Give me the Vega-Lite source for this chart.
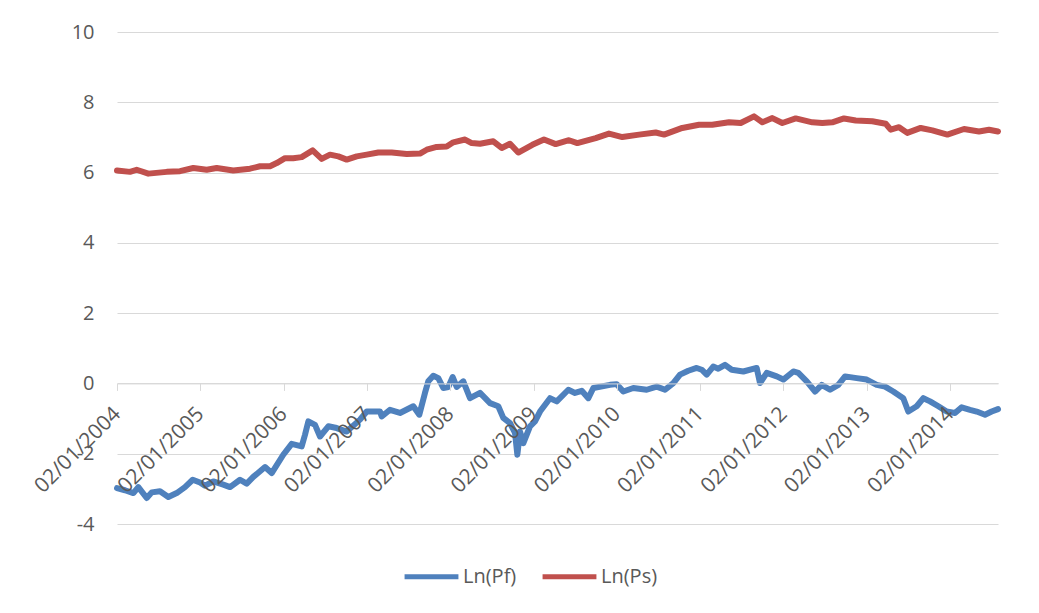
{
  "$schema": "https://vega.github.io/schema/vega-lite/v6.json",
  "width": 881,
  "height": 492,
  "autosize": {"type": "none"},
  "padding": {"left": 117, "top": 32, "right": 41, "bottom": 89},
  "background": "white",
  "config": {"font": "Open Sans", "view": {"stroke": null}},
  "data": {
    "values": [
      {"series": "Ln(Pf)", "year": 2004.000, "value": -2.98},
      {"series": "Ln(Pf)", "year": 2004.096, "value": -3.04},
      {"series": "Ln(Pf)", "year": 2004.196, "value": -3.12},
      {"series": "Ln(Pf)", "year": 2004.256, "value": -2.95},
      {"series": "Ln(Pf)", "year": 2004.357, "value": -3.26},
      {"series": "Ln(Pf)", "year": 2004.417, "value": -3.10},
      {"series": "Ln(Pf)", "year": 2004.516, "value": -3.07},
      {"series": "Ln(Pf)", "year": 2004.616, "value": -3.23},
      {"series": "Ln(Pf)", "year": 2004.717, "value": -3.12},
      {"series": "Ln(Pf)", "year": 2004.816, "value": -2.95},
      {"series": "Ln(Pf)", "year": 2004.909, "value": -2.74},
      {"series": "Ln(Pf)", "year": 2004.996, "value": -2.82},
      {"series": "Ln(Pf)", "year": 2005.056, "value": -2.91},
      {"series": "Ln(Pf)", "year": 2005.156, "value": -2.79},
      {"series": "Ln(Pf)", "year": 2005.276, "value": -2.88},
      {"series": "Ln(Pf)", "year": 2005.357, "value": -2.95},
      {"series": "Ln(Pf)", "year": 2005.477, "value": -2.74},
      {"series": "Ln(Pf)", "year": 2005.557, "value": -2.85},
      {"series": "Ln(Pf)", "year": 2005.636, "value": -2.66},
      {"series": "Ln(Pf)", "year": 2005.777, "value": -2.38},
      {"series": "Ln(Pf)", "year": 2005.857, "value": -2.55},
      {"series": "Ln(Pf)", "year": 2005.996, "value": -2.03},
      {"series": "Ln(Pf)", "year": 2006.097, "value": -1.72},
      {"series": "Ln(Pf)", "year": 2006.217, "value": -1.79},
      {"series": "Ln(Pf)", "year": 2006.257, "value": -1.46},
      {"series": "Ln(Pf)", "year": 2006.297, "value": -1.08},
      {"series": "Ln(Pf)", "year": 2006.377, "value": -1.18},
      {"series": "Ln(Pf)", "year": 2006.437, "value": -1.51},
      {"series": "Ln(Pf)", "year": 2006.537, "value": -1.22},
      {"series": "Ln(Pf)", "year": 2006.637, "value": -1.27},
      {"series": "Ln(Pf)", "year": 2006.758, "value": -1.37},
      {"series": "Ln(Pf)", "year": 2006.917, "value": -1.03},
      {"series": "Ln(Pf)", "year": 2006.998, "value": -0.80},
      {"series": "Ln(Pf)", "year": 2007.157, "value": -0.80},
      {"series": "Ln(Pf)", "year": 2007.178, "value": -0.94},
      {"series": "Ln(Pf)", "year": 2007.277, "value": -0.75},
      {"series": "Ln(Pf)", "year": 2007.397, "value": -0.84},
      {"series": "Ln(Pf)", "year": 2007.557, "value": -0.65},
      {"series": "Ln(Pf)", "year": 2007.629, "value": -0.89},
      {"series": "Ln(Pf)", "year": 2007.697, "value": -0.27},
      {"series": "Ln(Pf)", "year": 2007.737, "value": 0.06},
      {"series": "Ln(Pf)", "year": 2007.797, "value": 0.22},
      {"series": "Ln(Pf)", "year": 2007.857, "value": 0.15},
      {"series": "Ln(Pf)", "year": 2007.917, "value": -0.13},
      {"series": "Ln(Pf)", "year": 2007.977, "value": -0.10},
      {"series": "Ln(Pf)", "year": 2008.030, "value": 0.18},
      {"series": "Ln(Pf)", "year": 2008.078, "value": -0.10},
      {"series": "Ln(Pf)", "year": 2008.157, "value": 0.06},
      {"series": "Ln(Pf)", "year": 2008.238, "value": -0.42},
      {"series": "Ln(Pf)", "year": 2008.358, "value": -0.27},
      {"series": "Ln(Pf)", "year": 2008.478, "value": -0.56},
      {"series": "Ln(Pf)", "year": 2008.577, "value": -0.65},
      {"series": "Ln(Pf)", "year": 2008.637, "value": -0.98},
      {"series": "Ln(Pf)", "year": 2008.718, "value": -1.13},
      {"series": "Ln(Pf)", "year": 2008.778, "value": -1.41},
      {"series": "Ln(Pf)", "year": 2008.806, "value": -2.03},
      {"series": "Ln(Pf)", "year": 2008.838, "value": -1.37},
      {"series": "Ln(Pf)", "year": 2008.878, "value": -1.70},
      {"series": "Ln(Pf)", "year": 2008.958, "value": -1.22},
      {"series": "Ln(Pf)", "year": 2009.018, "value": -1.08},
      {"series": "Ln(Pf)", "year": 2009.078, "value": -0.80},
      {"series": "Ln(Pf)", "year": 2009.198, "value": -0.42},
      {"series": "Ln(Pf)", "year": 2009.279, "value": -0.51},
      {"series": "Ln(Pf)", "year": 2009.418, "value": -0.18},
      {"series": "Ln(Pf)", "year": 2009.498, "value": -0.27},
      {"series": "Ln(Pf)", "year": 2009.579, "value": -0.21},
      {"series": "Ln(Pf)", "year": 2009.658, "value": -0.42},
      {"series": "Ln(Pf)", "year": 2009.718, "value": -0.13},
      {"series": "Ln(Pf)", "year": 2009.918, "value": -0.04},
      {"series": "Ln(Pf)", "year": 2009.999, "value": -0.02},
      {"series": "Ln(Pf)", "year": 2010.078, "value": -0.23},
      {"series": "Ln(Pf)", "year": 2010.198, "value": -0.13},
      {"series": "Ln(Pf)", "year": 2010.359, "value": -0.18},
      {"series": "Ln(Pf)", "year": 2010.479, "value": -0.09},
      {"series": "Ln(Pf)", "year": 2010.579, "value": -0.18},
      {"series": "Ln(Pf)", "year": 2010.678, "value": 0.01},
      {"series": "Ln(Pf)", "year": 2010.759, "value": 0.25},
      {"series": "Ln(Pf)", "year": 2010.858, "value": 0.36},
      {"series": "Ln(Pf)", "year": 2010.959, "value": 0.44},
      {"series": "Ln(Pf)", "year": 2011.019, "value": 0.39},
      {"series": "Ln(Pf)", "year": 2011.079, "value": 0.25},
      {"series": "Ln(Pf)", "year": 2011.158, "value": 0.48},
      {"series": "Ln(Pf)", "year": 2011.218, "value": 0.42},
      {"series": "Ln(Pf)", "year": 2011.299, "value": 0.53},
      {"series": "Ln(Pf)", "year": 2011.379, "value": 0.39},
      {"series": "Ln(Pf)", "year": 2011.519, "value": 0.34},
      {"series": "Ln(Pf)", "year": 2011.679, "value": 0.44},
      {"series": "Ln(Pf)", "year": 2011.719, "value": 0.01},
      {"series": "Ln(Pf)", "year": 2011.800, "value": 0.30},
      {"series": "Ln(Pf)", "year": 2011.920, "value": 0.20},
      {"series": "Ln(Pf)", "year": 2011.999, "value": 0.11},
      {"series": "Ln(Pf)", "year": 2012.119, "value": 0.34},
      {"series": "Ln(Pf)", "year": 2012.179, "value": 0.30},
      {"series": "Ln(Pf)", "year": 2012.280, "value": 0.06},
      {"series": "Ln(Pf)", "year": 2012.380, "value": -0.23},
      {"series": "Ln(Pf)", "year": 2012.460, "value": -0.04},
      {"series": "Ln(Pf)", "year": 2012.560, "value": -0.18},
      {"series": "Ln(Pf)", "year": 2012.659, "value": -0.04},
      {"series": "Ln(Pf)", "year": 2012.740, "value": 0.20},
      {"series": "Ln(Pf)", "year": 2012.880, "value": 0.15},
      {"series": "Ln(Pf)", "year": 2013.000, "value": 0.11},
      {"series": "Ln(Pf)", "year": 2013.120, "value": -0.04},
      {"series": "Ln(Pf)", "year": 2013.220, "value": -0.09},
      {"series": "Ln(Pf)", "year": 2013.319, "value": -0.23},
      {"series": "Ln(Pf)", "year": 2013.439, "value": -0.42},
      {"series": "Ln(Pf)", "year": 2013.499, "value": -0.80},
      {"series": "Ln(Pf)", "year": 2013.600, "value": -0.65},
      {"series": "Ln(Pf)", "year": 2013.680, "value": -0.42},
      {"series": "Ln(Pf)", "year": 2013.760, "value": -0.51},
      {"series": "Ln(Pf)", "year": 2013.860, "value": -0.65},
      {"series": "Ln(Pf)", "year": 2013.960, "value": -0.80},
      {"series": "Ln(Pf)", "year": 2014.060, "value": -0.84},
      {"series": "Ln(Pf)", "year": 2014.140, "value": -0.68},
      {"series": "Ln(Pf)", "year": 2014.240, "value": -0.75},
      {"series": "Ln(Pf)", "year": 2014.320, "value": -0.80},
      {"series": "Ln(Pf)", "year": 2014.420, "value": -0.89},
      {"series": "Ln(Pf)", "year": 2014.500, "value": -0.80},
      {"series": "Ln(Pf)", "year": 2014.576, "value": -0.73},
      {"series": "Ln(Ps)", "year": 2004.000, "value": 6.06},
      {"series": "Ln(Ps)", "year": 2004.156, "value": 6.02},
      {"series": "Ln(Ps)", "year": 2004.236, "value": 6.08},
      {"series": "Ln(Ps)", "year": 2004.376, "value": 5.97},
      {"series": "Ln(Ps)", "year": 2004.597, "value": 6.02},
      {"series": "Ln(Ps)", "year": 2004.756, "value": 6.04},
      {"series": "Ln(Ps)", "year": 2004.916, "value": 6.13},
      {"series": "Ln(Ps)", "year": 2005.077, "value": 6.08},
      {"series": "Ln(Ps)", "year": 2005.197, "value": 6.13},
      {"series": "Ln(Ps)", "year": 2005.396, "value": 6.06},
      {"series": "Ln(Ps)", "year": 2005.597, "value": 6.11},
      {"series": "Ln(Ps)", "year": 2005.717, "value": 6.18},
      {"series": "Ln(Ps)", "year": 2005.837, "value": 6.18},
      {"series": "Ln(Ps)", "year": 2005.917, "value": 6.27},
      {"series": "Ln(Ps)", "year": 2006.017, "value": 6.41},
      {"series": "Ln(Ps)", "year": 2006.116, "value": 6.41},
      {"series": "Ln(Ps)", "year": 2006.217, "value": 6.44},
      {"series": "Ln(Ps)", "year": 2006.349, "value": 6.63},
      {"series": "Ln(Ps)", "year": 2006.457, "value": 6.39},
      {"series": "Ln(Ps)", "year": 2006.557, "value": 6.51},
      {"series": "Ln(Ps)", "year": 2006.657, "value": 6.46},
      {"series": "Ln(Ps)", "year": 2006.758, "value": 6.37},
      {"series": "Ln(Ps)", "year": 2006.878, "value": 6.46},
      {"series": "Ln(Ps)", "year": 2006.998, "value": 6.51},
      {"series": "Ln(Ps)", "year": 2007.137, "value": 6.57},
      {"series": "Ln(Ps)", "year": 2007.298, "value": 6.57},
      {"series": "Ln(Ps)", "year": 2007.478, "value": 6.53},
      {"series": "Ln(Ps)", "year": 2007.637, "value": 6.54},
      {"series": "Ln(Ps)", "year": 2007.718, "value": 6.65},
      {"series": "Ln(Ps)", "year": 2007.838, "value": 6.73},
      {"series": "Ln(Ps)", "year": 2007.958, "value": 6.74},
      {"series": "Ln(Ps)", "year": 2008.037, "value": 6.86},
      {"series": "Ln(Ps)", "year": 2008.178, "value": 6.94},
      {"series": "Ln(Ps)", "year": 2008.258, "value": 6.84},
      {"series": "Ln(Ps)", "year": 2008.358, "value": 6.82},
      {"series": "Ln(Ps)", "year": 2008.517, "value": 6.89},
      {"series": "Ln(Ps)", "year": 2008.618, "value": 6.70},
      {"series": "Ln(Ps)", "year": 2008.718, "value": 6.82},
      {"series": "Ln(Ps)", "year": 2008.817, "value": 6.57},
      {"series": "Ln(Ps)", "year": 2008.986, "value": 6.79},
      {"series": "Ln(Ps)", "year": 2009.126, "value": 6.94},
      {"series": "Ln(Ps)", "year": 2009.266, "value": 6.81},
      {"series": "Ln(Ps)", "year": 2009.426, "value": 6.92},
      {"series": "Ln(Ps)", "year": 2009.526, "value": 6.84},
      {"series": "Ln(Ps)", "year": 2009.747, "value": 6.98},
      {"series": "Ln(Ps)", "year": 2009.906, "value": 7.11},
      {"series": "Ln(Ps)", "year": 2010.066, "value": 7.01},
      {"series": "Ln(Ps)", "year": 2010.267, "value": 7.08},
      {"series": "Ln(Ps)", "year": 2010.467, "value": 7.14},
      {"series": "Ln(Ps)", "year": 2010.567, "value": 7.08},
      {"series": "Ln(Ps)", "year": 2010.786, "value": 7.27},
      {"series": "Ln(Ps)", "year": 2010.987, "value": 7.36},
      {"series": "Ln(Ps)", "year": 2011.146, "value": 7.36},
      {"series": "Ln(Ps)", "year": 2011.347, "value": 7.43},
      {"series": "Ln(Ps)", "year": 2011.487, "value": 7.41},
      {"series": "Ln(Ps)", "year": 2011.647, "value": 7.60},
      {"series": "Ln(Ps)", "year": 2011.747, "value": 7.43},
      {"series": "Ln(Ps)", "year": 2011.867, "value": 7.55},
      {"series": "Ln(Ps)", "year": 2011.987, "value": 7.41},
      {"series": "Ln(Ps)", "year": 2012.148, "value": 7.54},
      {"series": "Ln(Ps)", "year": 2012.347, "value": 7.43},
      {"series": "Ln(Ps)", "year": 2012.467, "value": 7.41},
      {"series": "Ln(Ps)", "year": 2012.587, "value": 7.43},
      {"series": "Ln(Ps)", "year": 2012.727, "value": 7.54},
      {"series": "Ln(Ps)", "year": 2012.868, "value": 7.48},
      {"series": "Ln(Ps)", "year": 2013.067, "value": 7.46},
      {"series": "Ln(Ps)", "year": 2013.228, "value": 7.39},
      {"series": "Ln(Ps)", "year": 2013.288, "value": 7.22},
      {"series": "Ln(Ps)", "year": 2013.388, "value": 7.29},
      {"series": "Ln(Ps)", "year": 2013.487, "value": 7.13},
      {"series": "Ln(Ps)", "year": 2013.648, "value": 7.27},
      {"series": "Ln(Ps)", "year": 2013.788, "value": 7.20},
      {"series": "Ln(Ps)", "year": 2013.968, "value": 7.08},
      {"series": "Ln(Ps)", "year": 2014.168, "value": 7.24},
      {"series": "Ln(Ps)", "year": 2014.348, "value": 7.17},
      {"series": "Ln(Ps)", "year": 2014.468, "value": 7.22},
      {"series": "Ln(Ps)", "year": 2014.576, "value": 7.17}
    ]
  },
  "mark": {"type": "line", "strokeWidth": 6, "strokeCap": "round", "strokeJoin": "round"},
  "encoding": {
    "x": {
      "field": "year",
      "type": "quantitative",
      "scale": {"domain": [2004, 2014.576], "nice": false, "zero": false},
      "axis": {
        "title": null,
        "values": [2004, 2005, 2006, 2007, 2008, 2009, 2010, 2011, 2012, 2013, 2014],
        "labelExpr": "'02/01/' + datum.value",
        "offset": -140.57,
        "zindex": 1,
        "grid": false,
        "domainColor": "#D9D9D9",
        "domainWidth": 1,
        "tickColor": "#D9D9D9",
        "tickWidth": 1,
        "tickSize": 7,
        "labelAngle": -45,
        "labelAlign": "right",
        "labelBaseline": "middle",
        "labelPadding": 20,
        "labelFontSize": 21,
        "labelColor": "#595959",
        "labelOverlap": false,
        "labelBound": false,
        "labelFlush": false
      }
    },
    "y": {
      "field": "value",
      "type": "quantitative",
      "scale": {"domain": [-4, 10], "nice": false},
      "axis": {
        "title": null,
        "values": [-4, -2, 0, 2, 4, 6, 8, 10],
        "labelExpr": "'' + datum.value",
        "domain": false,
        "ticks": false,
        "labelPadding": 23,
        "labelFontSize": 20,
        "labelColor": "#595959",
        "gridColor": "#D9D9D9",
        "gridWidth": 1
      }
    },
    "color": {
      "field": "series",
      "type": "nominal",
      "scale": {"domain": ["Ln(Pf)", "Ln(Ps)"], "range": ["#4F81BD", "#C0504D"]},
      "legend": {
        "title": null,
        "orient": "none",
        "legendX": 285,
        "legendY": 515,
        "direction": "horizontal",
        "symbolType": "stroke",
        "symbolSize": 2900,
        "symbolStrokeWidth": 5,
        "labelFontSize": 20,
        "labelColor": "#595959",
        "labelOffset": 2,
        "columnPadding": 15
      }
    }
  }
}
